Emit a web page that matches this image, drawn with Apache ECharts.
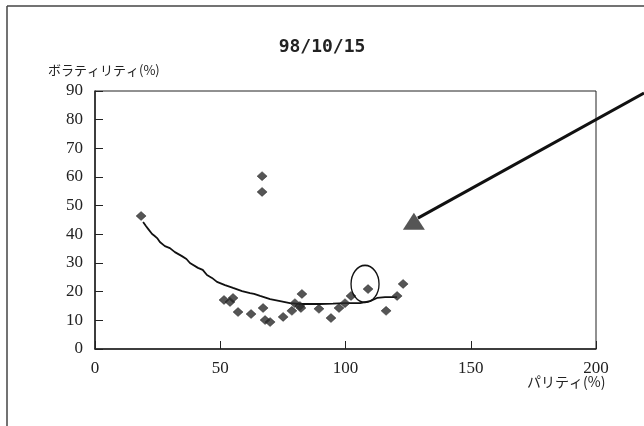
<!DOCTYPE html>
<html>
<head>
<meta charset="utf-8">
<script src="https://cdn.jsdelivr.net/npm/echarts@6/dist/echarts.min.js"></script>
<style>html,body{margin:0;padding:0;background:#fff}#c{width:644px;height:426px}</style>
</head>
<body>
<div id="c"></div>
<script>
var titleText = '98/10/15';
var xAxisName = 'パリティ(%)';
var yAxisName = 'ボラティリティ(%)';
var xTicks = [0, 50, 100, 150, 200];
var yTicks = [0, 10, 20, 30, 40, 50, 60, 70, 80, 90];

var pointsX = [18.4, 66.7, 66.7, 51.5, 53.9, 55.1, 57.1, 62.3, 67.1, 67.9, 69.9, 75.1, 78.6, 79.8, 81.8, 82.6, 82.2, 89.4, 94.2, 97.4, 99.8, 102.2, 109.0, 116.2, 120.6, 123.0];
var pointsY = [46.4, 60.3, 54.8, 17.1, 16.4, 17.8, 12.9, 12.2, 14.3, 10.1, 9.4, 11.2, 13.3, 16.0, 15.0, 19.2, 14.3, 14.0, 10.8, 14.3, 16.0, 18.5, 20.9, 13.3, 18.5, 22.7];

var curveX = [19.2, 20.4, 21.2, 22.8, 23.6, 24.8, 25.9, 27.9, 29.9, 31.9, 34.7, 36.5, 37.9, 41.1, 43.0, 44.7, 46.7, 48.7, 51.9, 55.1, 58.7, 61.9, 63.5, 65.9, 69.9, 73.9, 77.8, 81.8, 85.8, 89.8, 95.0, 99.8, 105.8, 109.8, 112.6, 115.8, 120.6];
var curveY = [44.3, 42.8, 41.9, 40.1, 39.6, 38.7, 37.3, 35.9, 35.2, 33.8, 32.4, 31.4, 30.0, 28.3, 27.6, 25.8, 24.8, 23.4, 22.3, 21.3, 20.2, 19.5, 19.2, 18.5, 17.4, 16.7, 16.0, 15.7, 15.7, 15.7, 15.8, 16.0, 16.0, 16.7, 17.8, 18.1, 18.1];

var markerX = [127.3];
var markerY = [44.6];

var noteX = [107.8];
var noteY = [22.7];

var chart = echarts.init(document.getElementById('c'), null, {renderer: 'canvas'});

function pairs(xs, ys) { return xs.map(function (x, i) { return [x, ys[i]]; }); }

var serif = '"Liberation Serif", "DejaVu Serif", serif';
var jp = '"Noto Sans CJK JP", sans-serif';

chart.setOption({
  animation: false,
  backgroundColor: '#fff',
  title: {
    text: titleText,
    left: 'center',
    top: 33,
    textStyle: {fontFamily: '"DejaVu Sans Mono", monospace', fontWeight: 'bold', fontSize: 18, color: '#222'}
  },
  grid: {left: 95, right: 48, top: 91, bottom: 77, show: true, borderColor: '#222', borderWidth: 1, backgroundColor: 'transparent'},
  xAxis: {
    type: 'value', min: xTicks[0], max: xTicks[xTicks.length - 1], interval: 50,
    axisLine: {onZero: false, lineStyle: {color: '#222', width: 1.5}},
    axisTick: {inside: true, length: 8, lineStyle: {color: '#222'}},
    axisLabel: {margin: 11, fontFamily: serif, fontSize: 17, color: '#222'},
    splitLine: {show: false}
  },
  yAxis: {
    type: 'value', min: yTicks[0], max: yTicks[yTicks.length - 1], interval: 10,
    axisLine: {onZero: false, lineStyle: {color: '#222', width: 1.5}},
    axisTick: {inside: true, length: 8, lineStyle: {color: '#222'}},
    axisLabel: {margin: 12, fontFamily: serif, fontSize: 17, color: '#222'},
    splitLine: {show: false}
  },
  series: [
    {
      type: 'line', data: pairs(curveX, curveY), symbol: 'none', smooth: false,
      lineStyle: {color: '#111', width: 1.8}, z: 2
    },
    {
      type: 'scatter', data: pairs(pointsX, pointsY), symbol: 'diamond', symbolSize: [10, 9],
      itemStyle: {color: '#2a2a2a', borderColor: '#111', borderWidth: 0.5}, z: 3
    },
    {
      type: 'scatter', data: pairs(markerX, markerY), symbol: 'triangle', symbolSize: [22, 17],
      itemStyle: {color: '#2a2a2a'}, z: 4
    }
  ]
});

function drawAnnotations() {
  var c = chart.convertToPixel({gridIndex: 0}, [noteX[0], noteY[0]]);
  var m = chart.convertToPixel({gridIndex: 0}, [markerX[0], markerY[0]]);
  chart.setOption({
    graphic: [
      {type: 'line', shape: {x1: 7, y1: 6, x2: 7, y2: 426}, style: {stroke: '#444', lineWidth: 1.5}},
      {type: 'line', shape: {x1: 7, y1: 6, x2: 644, y2: 6}, style: {stroke: '#444', lineWidth: 1.5}},
      {type: 'circle', x: c[0], y: c[1], scaleX: 14 / 18.5, scaleY: 1, shape: {cx: 0, cy: 0, r: 18.5},
        style: {fill: 'none', stroke: '#111', lineWidth: 1.5 * 18.5 / 16}, z: 10},
      {type: 'line', shape: {x1: m[0] + 4, y1: m[1] - 3, x2: 644, y2: 93}, style: {stroke: '#111', lineWidth: 3}, z: 10},
      {type: 'text', left: 48, top: 64, style: {text: yAxisName, font: '13px ' + jp, fill: '#222'}},
      {type: 'text', left: 527, top: 375, style: {text: xAxisName, font: '14px ' + jp, fill: '#222'}}
    ]
  });
}
drawAnnotations();
</script>
</body>
</html>
